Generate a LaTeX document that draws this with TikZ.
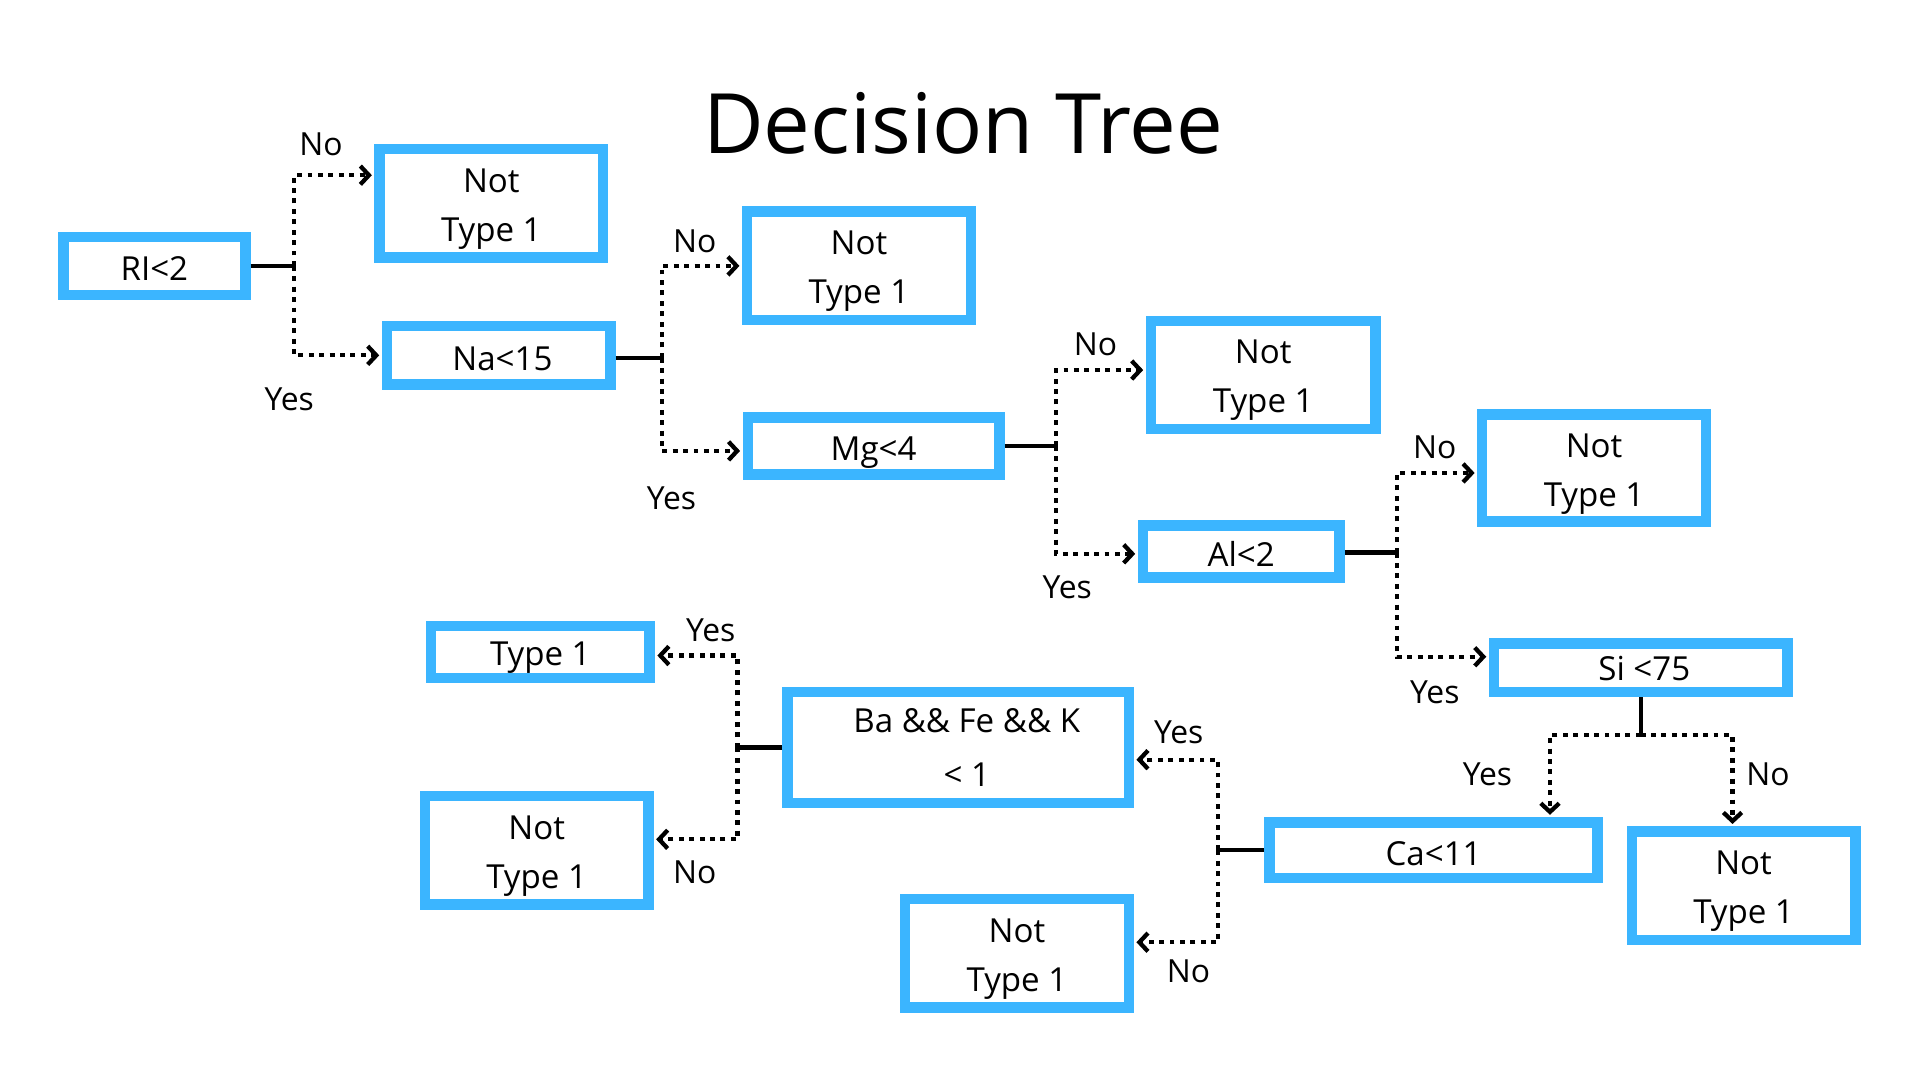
\documentclass[tikz,border=0pt]{standalone}
\usepackage{fontspec}
\setmainfont{Open Sans}
\usetikzlibrary{arrows.meta}
\definecolor{boxblue}{RGB}{59,181,255}
\newcommand\twolines[2]{\raisebox{-3pt}[\height][\depth]{\begin{tabular}{@{}c@{}}#1\\#2\end{tabular}}}
\newcommand\oneline[2][-3pt]{\raisebox{#1}[\height][\depth]{#2}}
\begin{document}
\begin{tikzpicture}[x=1pt,y=-1pt,
  box/.style={draw=boxblue,line width=8.5pt,fill=white,inner sep=0pt,align=center,
    font=\fontsize{27}{40}\selectfont},
  twoline/.style={box,minimum width=182.5pt,minimum height=88.5pt},
  lbl/.style={font=\fontsize{26}{30}\selectfont,inner sep=0pt},
  solidc/.style={line width=3.5pt},
  dotc/.style={line width=3.5pt,dash pattern=on 4pt off 4.5pt,
    -{Straight Barb[length=7pt,width=15pt]},shorten >=2pt}]
\useasboundingbox[fill=white] (0,0) rectangle (1567,881.4);

\node[font=\fontsize{68}{80}\selectfont,inner sep=0pt] (title) at (786,101) {Decision Tree};

% boxes
\node[box,minimum width=148.5pt,minimum height=47.5pt] (ri) at (126,217) {\oneline[-2pt]{RI<2}};
\node[twoline] (nt1) at (401,166) {\twolines{Not}{Type 1}};
\node[box,minimum width=182.5pt,minimum height=47.5pt] (na) at (407,290) {\oneline{\hspace*{6pt}Na<15}};
\node[twoline] (nt2) at (701,217) {\twolines{Not}{Type 1}};
\node[box,minimum width=205.5pt,minimum height=46.5pt] (mg) at (713,364) {\oneline[-5pt]{Mg<4}};
\node[twoline,minimum width=183.5pt] (nt3) at (1031,306) {\twolines{Not}{Type 1}};
\node[box,minimum width=160.5pt,minimum height=42.5pt] (al) at (1013,450) {\oneline[-2pt]{Al<2}};
\node[twoline,minimum height=87.5pt] (nt4) at (1301,382) {\twolines{Not}{Type 1}};
\node[box,minimum width=239.5pt,minimum height=39.5pt] (si) at (1339,545) {\oneline[-1pt]{\hspace*{6pt}Si <75}};
\node[twoline] (nt5) at (1423,723) {\twolines{Not}{Type 1}};
\node[box,minimum width=267.5pt,minimum height=45.5pt] (ca) at (1170,694) {\oneline{Ca<11}};
\node[box,minimum width=278.5pt,minimum height=90.5pt,
  font=\fontsize{27}{44}\selectfont] (ba) at (782,610) {\hspace*{14pt}Ba \&\& Fe \&\& K\\\hspace*{14pt}< 1};
\node[twoline] (nt6) at (830,778) {\twolines{Not}{Type 1}};
\node[box,minimum width=178.5pt,minimum height=42.5pt] (t1) at (441,532) {\oneline[-5pt]{Type 1}};
\node[twoline] (nt7) at (438,694) {\twolines{Not}{Type 1}};

% junctions
\coordinate (j1) at (240,217);
\coordinate (j2) at (540,292);
\coordinate (j3) at (862,364);
\coordinate (j4) at (1140,451);
\coordinate (j5) at (1339,600);
\coordinate (j6) at (994,694);
\coordinate (j7) at (602,610);

% RI<2
\draw[solidc] (ri.east) -- (j1);
\draw[dotc] (j1) |- ([yshift=23pt]nt1.west);
\draw[dotc] (j1) |- (na.west);
% Na<15
\draw[solidc] (na.east |- j2) -- (j2);
\draw[dotc] (j2) |- (nt2.west);
\draw[dotc] (j2) |- ([yshift=-4pt]mg.west);
% Mg<4
\draw[solidc] (mg.east) -- (j3);
\draw[dotc] (j3) |- ([yshift=4pt]nt3.west);
\draw[dotc] (j3) |- ([yshift=-2pt]al.west);
% Al<2
\draw[solidc] (al.east |- j4) -- (j4);
\draw[dotc] (j4) |- ([yshift=-4pt]nt4.west);
\draw[dotc] (j4) |- ([yshift=9pt]si.west);
% Si<75
\draw[solidc] (si.south) -- (j5);
\draw[dotc] (j5) -| ([xshift=95pt]ca.north);
\draw[dotc] (j5) -| ([xshift=-9pt]nt5.north);
% Ca<11
\draw[solidc] (ca.west) -- (j6);
\draw[dotc] (j6) |- ([yshift=-10pt]ba.east);
\draw[dotc] (j6) |- ([yshift=9pt]nt6.east);
% Ba
\draw[solidc] (ba.west) -- (j7);
\draw[dotc] (j7) |- ([yshift=-3pt]t1.east);
\draw[dotc] (j7) |- ([yshift=9pt]nt7.east);

% labels
\node[lbl] (l1) at (262,118) {No};
\node[lbl] (l2) at (236,326) {Yes};
\node[lbl] (l3) at (567,197) {No};
\node[lbl] (l4) at (548,407) {Yes};
\node[lbl] (l5) at (894,281) {No};
\node[lbl] (l6) at (871,479) {Yes};
\node[lbl] (l7) at (1171,365) {No};
\node[lbl] (l8) at (1171,565) {Yes};
\node[lbl] (l9) at (1214,632) {Yes};
\node[lbl] (l10) at (1443,632) {No};
\node[lbl] (l11) at (962,598) {Yes};
\node[lbl] (l12) at (970,793) {No};
\node[lbl] (l13) at (580,514) {Yes};
\node[lbl] (l14) at (567,712) {No};
\end{tikzpicture}
\end{document}
